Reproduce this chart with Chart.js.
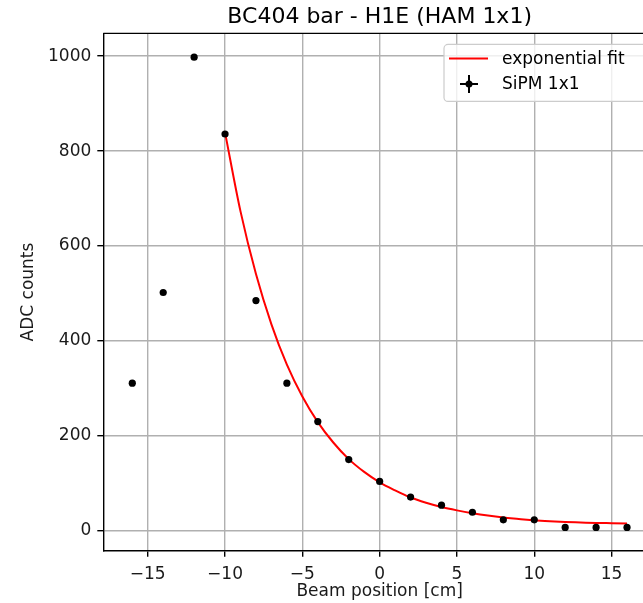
<!DOCTYPE html>
<html>
<head>
<meta charset="utf-8">
<title>BC404 bar - H1E (HAM 1x1)</title>
<script src="https://cdn.jsdelivr.net/npm/chart.js@4.4.1/dist/chart.umd.min.js"></script>
<style>
    html, body { margin: 0; padding: 0; overflow: hidden; background: #fff; }
    canvas { display: block; }
</style>
</head>
<body>
<canvas id="adcChart" width="660" height="603"></canvas>
<script>
        // Measured points (SiPM 1x1)
        const beamPos = [-16, -14, -12, -10, -8, -6, -4, -2, 0, 2, 4, 6, 8, 10, 12, 14, 16];
        const adcCounts = [311, 502, 998, 836, 485, 311, 230, 150, 104, 71, 54, 39, 23, 23, 7, 7, 7];

        // Exponential fit curve
        const fitPos = [-10, -9, -8, -7, -6, -5, -4, -3, -2, -1, 0, 1, 2, 3, 4, 5, 6, 7, 8, 9, 10, 11, 12, 13, 14, 15, 16];
        const fitCounts = [839, 673, 541, 435, 350, 283, 229, 186, 151, 124, 102, 85, 70, 59, 50, 43, 37, 32, 28, 25, 22, 20, 18.5, 17.5, 16.5, 16, 15.5];

        const xTicks = [-15, -10, -5, 0, 5, 10, 15];
        const yTicks = [0, 200, 400, 600, 800, 1000];

        const FONT = 'DejaVu Sans';

        // matplotlib style labels: real minus sign, no thousands separator
        const tickText = v => (v < 0 ? '\u2212' + Math.abs(v) : String(v));

        // top/right spines like a matplotlib frame
        const frame = {
            id: 'frame',
            afterDatasetsDraw(chart) {
                const { ctx, chartArea: a } = chart;
                ctx.save();
                ctx.strokeStyle = '#000';
                ctx.lineWidth = 1.4;
                ctx.beginPath();
                ctx.moveTo(a.left, a.top);
                ctx.lineTo(a.right, a.top);
                ctx.lineTo(a.right, a.bottom);
                ctx.stroke();
                ctx.restore();
            }
        };

        // legend box in the upper right corner of the axes
        const boxLegend = {
            id: 'boxLegend',
            afterDraw(chart) {
                const { ctx, chartArea: a } = chart;
                const left = a.right - 212;
                const top = a.top + 11;
                const w = 206, h = 57;
                ctx.save();
                ctx.fillStyle = 'rgba(255,255,255,0.8)';
                ctx.strokeStyle = '#cccccc';
                ctx.lineWidth = 1.2;
                ctx.beginPath();
                ctx.roundRect(left, top, w, h, 4);
                ctx.fill();
                ctx.stroke();

                ctx.font = '17px "' + FONT + '"';
                ctx.textBaseline = 'middle';
                ctx.fillStyle = '#000';
                chart.data.datasets.forEach((ds, i) => {
                    const cy = top + 14 + i * 25.5;
                    if (ds.showLine) {
                        ctx.strokeStyle = ds.borderColor;
                        ctx.lineWidth = 2;
                        ctx.beginPath();
                        ctx.moveTo(left + 5, cy);
                        ctx.lineTo(left + 44, cy);
                        ctx.stroke();
                    } else {
                        const cx = left + 25;
                        ctx.strokeStyle = '#000';
                        ctx.lineWidth = 2;
                        ctx.beginPath();
                        ctx.moveTo(cx - 9, cy);
                        ctx.lineTo(cx + 9, cy);
                        ctx.moveTo(cx, cy - 9);
                        ctx.lineTo(cx, cy + 9);
                        ctx.stroke();
                        ctx.beginPath();
                        ctx.arc(cx, cy, 3.5, 0, Math.PI * 2);
                        ctx.fill();
                    }
                    ctx.fillStyle = '#000';
                    ctx.fillText(ds.label, left + 58, cy + 1);
                });
                ctx.restore();
            }
        };

        const adcCtx = document.getElementById('adcChart').getContext('2d');
        new Chart(adcCtx, {
            type: 'scatter',
            data: {
                datasets: [{
                    label: 'exponential fit',
                    data: fitPos.map((x, i) => ({ x: x, y: fitCounts[i] })),
                    showLine: true,
                    borderColor: '#ff0000',
                    borderWidth: 2,
                    pointRadius: 0,
                    cubicInterpolationMode: 'monotone',
                    order: 2
                }, {
                    label: 'SiPM 1x1',
                    data: beamPos.map((x, i) => ({ x: x, y: adcCounts[i] })),
                    showLine: false,
                    backgroundColor: '#000',
                    borderWidth: 0,
                    pointRadius: 3.6,
                    order: 1
                }]
            },
            options: {
                responsive: false,
                animation: false,
                devicePixelRatio: 1,
                layout: {
                    padding: { left: 0, right: 3, top: 0, bottom: 0 }
                },
                plugins: {
                    legend: { display: false },
                    tooltip: { enabled: false },
                    title: {
                        display: true,
                        fullSize: false,
                        text: 'BC404 bar - H1E (HAM 1x1)',
                        color: '#000',
                        font: { family: FONT, size: 22, weight: 'normal' },
                        padding: { top: 4, bottom: 3 }
                    }
                },
                scales: {
                    x: {
                        type: 'linear',
                        min: -17.875,
                        max: 17.875,
                        afterBuildTicks: scale => { scale.ticks = xTicks.map(v => ({ value: v })); },
                        afterFit: scale => { scale.height = 52.3; },
                        ticks: {
                            color: '#1a1a1a',
                            font: { family: FONT, size: 17 },
                            padding: 8,
                            maxRotation: 0,
                            callback: tickText
                        },
                        grid: {
                            color: '#b0b0b0',
                            lineWidth: 1.4,
                            tickColor: '#000',
                            tickLength: 6,
                            tickWidth: 1.4
                        },
                        border: { color: '#000', width: 1.4 },
                        title: {
                            display: true,
                            text: 'Beam position [cm]',
                            color: '#1a1a1a',
                            font: { family: FONT, size: 17 },
                            padding: { top: 0, bottom: 1 }
                        }
                    },
                    y: {
                        type: 'linear',
                        min: -42,
                        max: 1048,
                        afterBuildTicks: scale => { scale.ticks = yTicks.map(v => ({ value: v })); },
                        afterFit: scale => { scale.width = 103.3; },
                        ticks: {
                            color: '#1a1a1a',
                            font: { family: FONT, size: 17 },
                            padding: 6,
                            callback: tickText
                        },
                        grid: {
                            color: '#b0b0b0',
                            lineWidth: 1.4,
                            tickColor: '#000',
                            tickLength: 6,
                            tickWidth: 1.4
                        },
                        border: { color: '#000', width: 1.4 },
                        title: {
                            display: true,
                            text: 'ADC counts',
                            color: '#1a1a1a',
                            font: { family: FONT, size: 17 },
                            padding: { top: 18, bottom: 0 }
                        }
                    }
                }
            },
            plugins: [frame, boxLegend]
        });
</script>
</body>
</html>
